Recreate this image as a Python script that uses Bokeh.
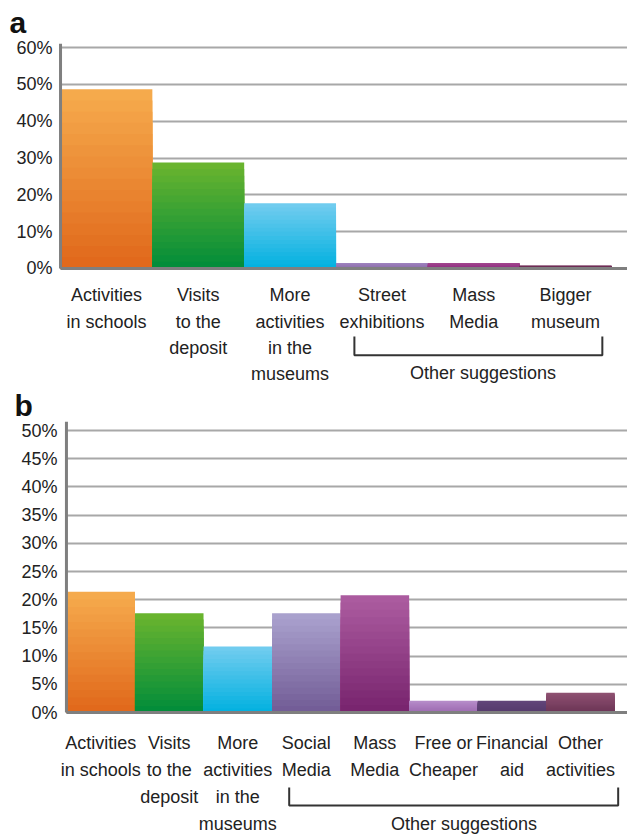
from bokeh.plotting import figure
from bokeh.layouts import column
from bokeh.models import ColumnDataSource, Range1d, FixedTicker, PrintfTickFormatter
from bokeh.core.properties import value
from bokeh.embed import file_html
from bokeh.resources import INLINE

# ---------------- data ----------------
a_labels = ["Activities\nin schools", "Visits\nto the\ndeposit",
            "More\nactivities\nin the\nmuseums", "Street\nexhibitions",
            "Mass\nMedia", "Bigger\nmuseum"]
a_values = [48.7, 28.8, 17.7, 1.5, 1.5, 0.8]
a_ticks = [0, 10, 20, 30, 40, 50, 60]
a_group_label = "Other suggestions"
a_group_first, a_group_last = 3, 5

b_labels = ["Activities\nin schools", "Visits\nto the\ndeposit",
            "More\nactivities\nin the\nmuseums", "Social\nMedia", "Mass\nMedia",
            "Free or\nCheaper", "Financial\naid", "Other\nactivities"]
b_values = [21.4, 17.6, 11.7, 17.6, 20.8, 2.1, 2.1, 3.5]
b_ticks = [0, 5, 10, 15, 20, 25, 30, 35, 40, 45, 50]
b_group_label = "Other suggestions"
b_group_first, b_group_last = 3, 7

# ---------------- styles ----------------
a_top_colors = ["#F6AC4E", "#6CB52E", "#74CDF0", "#A084C0", "#A2488F", "#723058"]
a_bot_colors = ["#E0671A", "#008C3A", "#00B0DF", "#8A6CA8", "#8C2C7E", "#6A2A52"]
b_top_colors = ["#F6AC4E", "#6CB52E", "#74CDF0", "#ABA3CF", "#AD5DA1", "#B78DCA", "#62457A", "#8F5272"]
b_bot_colors = ["#E0671A", "#008C3A", "#00B0DF", "#715B95", "#77236D", "#9C6AB0", "#553A6C", "#6B3355"]

FONT = "Liberation Sans"
TEXT_COLOR = "#222222"
GRID_COLOR = "#A8A8A8"
AXIS_COLOR = "#7F7F7F"


def _rgb(h):
    return tuple(int(h[i:i + 2], 16) for i in (1, 3, 5))


def _mix(c_bottom, c_top, t):
    a, b = _rgb(c_bottom), _rgb(c_top)
    return "#%02x%02x%02x" % tuple(round(a[i] + (b[i] - a[i]) * t) for i in range(3))


def gradient_source(values, tops, bottoms, n=16):
    xs, top, col = [], [], []
    for i, (v, ct, cb) in enumerate(zip(values, tops, bottoms)):
        for k in range(n, 0, -1):
            xs.append(i)
            top.append(v * k / n)
            col.append(_mix(cb, ct, (k - 0.5) / n))
    return ColumnDataSource(dict(x=xs, top=top, color=col))


def make_panel(name, labels, values, ticks, tops, bots, width, height, border_left,
               x_range, y_range, y_bound, label_y, line_h, br_top, br_bot, br_lab_y,
               g_first, g_last, g_label, br_left_off, br_right_off, br_lab_shift,
               standoff, title_standoff, title_x):
    p = figure(width=width, height=height, output_backend="svg", toolbar_location=None,
               x_range=Range1d(*x_range), y_range=Range1d(*y_range),
               x_axis_location=None, min_border_left=border_left, min_border_right=0,
               min_border_bottom=0, min_border_top=0, outline_line_color=None,
               background_fill_color="white", border_fill_color="white")
    p.title.text = name
    p.title.text_font = FONT
    p.title.text_font_size = "30px"
    p.title.text_font_style = "bold"
    p.title.text_color = "#111111"
    p.title.align = "left"
    p.title.offset = -border_left + title_x
    p.title.standoff = title_standoff

    axis_x = -0.5  # left edge of the first bar
    ax = p.yaxis[0]
    ax.ticker = FixedTicker(ticks=ticks)
    ax.formatter = PrintfTickFormatter(format="%d%%")
    ax.bounds = (0, y_bound)
    ax.axis_line_color = None
    ax.major_tick_line_color = None
    ax.minor_tick_line_color = None
    ax.major_tick_out = 0
    ax.major_tick_in = 0
    ax.minor_tick_out = 0
    ax.major_label_text_font = FONT
    ax.major_label_text_font_size = "18px"
    ax.major_label_text_color = TEXT_COLOR
    ax.major_label_standoff = standoff

    p.xgrid.visible = False
    p.ygrid.ticker = FixedTicker(ticks=ticks)
    p.ygrid.bounds = (0, y_bound)
    p.ygrid.cross_bounds = (axis_x, x_range[1])
    p.ygrid.grid_line_color = GRID_COLOR
    p.ygrid.grid_line_width = 2

    src = gradient_source(values, tops, bots)
    p.vbar(x="x", top="top", bottom=0, width=1.0, fill_color="color",
           line_color=None, source=src)

    # value axis line and 0 % baseline
    p.segment(x0=[axis_x, axis_x], y0=[0, 0], x1=[axis_x, x_range[1]], y1=[y_bound, 0],
              line_color=AXIS_COLOR, line_width=3)

    n = len(labels)
    p.text(x=list(range(n)), y=[label_y] * n, text=labels, text_align="center",
           text_baseline="top", text_font=value(FONT), text_font_size="18px",
           text_line_height=line_h, text_color=TEXT_COLOR)

    x0 = g_first + br_left_off
    x1 = g_last + br_right_off
    p.line(x=[x0, x0, x1, x1], y=[br_top, br_bot, br_bot, br_top],
           line_color="#333333", line_width=2)
    p.text(x=[(x0 + x1) / 2 + br_lab_shift], y=[br_lab_y], text=[g_label],
           text_align="center", text_baseline="middle", text_font=value(FONT),
           text_font_size="18px", text_color=TEXT_COLOR)
    return p


pa = make_panel("a", a_labels, a_values, a_ticks, a_top_colors, a_bot_colors,
                width=627, height=386, border_left=58,
                x_range=(-0.522, 5.674), y_range=(-32.07, 61.68), y_bound=61.1,
                label_y=-4.6, line_h=1.31, br_top=-18.5, br_bot=-23.6, br_lab_y=-28.4,
                g_first=a_group_first, g_last=a_group_last, g_label=a_group_label,
                br_left_off=-0.3, br_right_off=0.4, br_lab_shift=0.05,
                standoff=6, title_standoff=6, title_x=9)

pb = make_panel("b", b_labels, b_values, b_ticks, b_top_colors, b_bot_colors,
                width=627, height=448, border_left=55,
                x_range=(-0.616, 7.686), y_range=(-21.63, 51.6), y_bound=51.6,
                label_y=-3.55, line_h=1.35, br_top=-13.3, br_bot=-16.49, br_lab_y=-19.68,
                g_first=b_group_first, g_last=b_group_last, g_label=b_group_label,
                br_left_off=-0.25, br_right_off=0.55, br_lab_shift=0.15,
                standoff=1, title_standoff=0, title_x=11)

layout = column(pa, pb, spacing=0)
open("out.html", "w").write(file_html(layout, INLINE))
